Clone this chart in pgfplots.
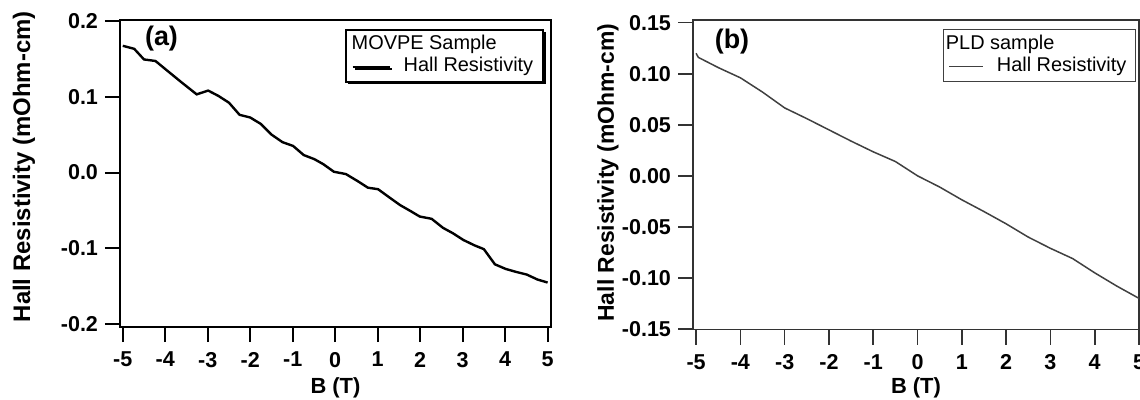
\documentclass[border=0pt]{standalone}
\usepackage{fontspec}
\setmainfont{Liberation Sans}
\usepackage{pgfplots}
\pgfplotsset{compat=1.18}
\usetikzlibrary{shadows}

% shared look of both Igor-style panels
\pgfplotsset{
  hallax/.style={
    scale only axis,
    anchor=south west,
    tick align=outside,
    tick pos=left,
    major tick length=7.5bp,
    xtick={-5,-4,-3,-2,-1,0,1,2,3,4,5},
    xticklabels={-5,-4,-3,-2,-1,0,1,2,3,4,5},
    ticklabel style={font=\bfseries\fontsize{10.8}{12}\selectfont},
    xticklabel style={yshift=-1.5bp},
    xlabel={B (T)},
    ylabel={Hall Resistivity (mOhm-cm)},
    legend cell align=left,
    clip=false,
  },
}

\begin{document}
\begin{tikzpicture}

% ---------------- (a) MOVPE ----------------
\begin{axis}[hallax,
  at={(60bp,-163.5bp)}, width=215.5bp, height=153.5bp,
  xmin=-5.065, xmax=5.08, ymin=-0.2036, ymax=0.201,
  ytick={-0.2,-0.1,0,0.1,0.2},
  yticklabels={-0.2,-0.1,0.0,0.1,0.2},
  axis line style={line width=1bp},
  every tick/.style={line width=1bp, black},
  every axis x label/.style={at={(axis description cs:0.5,-0.1987)}, anchor=center,
    font=\bfseries\fontsize{11}{12}\selectfont},
  every axis y label/.style={at={(axis description cs:-0.2227,0.522)}, rotate=90, anchor=center,
    font=\bfseries\fontsize{12}{13}\selectfont},
  legend style={at={(axis description cs:0.9838,0.9707)}, anchor=north east,
    draw=black, line width=0.8bp, fill=white,
    font=\fontsize{10}{12}\selectfont,
    inner xsep=3bp, inner ysep=2bp,
    nodes={inner ysep=0.5bp, text height=7.5bp, text depth=2.5bp},
    drop shadow={shadow xshift=1.2bp, shadow yshift=-1.2bp, opacity=1, fill=black}},
  legend image code/.code={\draw[#1, line width=0.8bp] (0bp,0bp) -- (18.5bp,0bp);
    \path (23bp,0bp);},
]
\addlegendimage{empty legend}
\addlegendentry{\hspace{-26bp}MOVPE Sample}
\addplot[black, line width=1.2bp] coordinates {
  (-5.00,0.167)(-4.73,0.163)(-4.50,0.149)(-4.23,0.147)(-3.97,0.135)
  (-3.62,0.119)(-3.26,0.103)(-2.99,0.108)(-2.75,0.101)(-2.50,0.092)
  (-2.25,0.076)(-2.00,0.0725)(-1.75,0.064)(-1.50,0.050)(-1.24,0.040)
  (-0.99,0.035)(-0.74,0.023)(-0.49,0.0176)(-0.28,0.011)(-0.03,0.001)
  (0.25,-0.002)(0.52,-0.011)(0.77,-0.020)(1.01,-0.022)(1.28,-0.033)
  (1.53,-0.043)(1.78,-0.051)(1.99,-0.058)(2.27,-0.061)(2.54,-0.073)
  (2.77,-0.080)(3.02,-0.089)(3.28,-0.096)(3.50,-0.101)(3.76,-0.121)
  (4.01,-0.127)(4.26,-0.131)(4.51,-0.1345)(4.76,-0.141)(5.00,-0.145)
};
\addlegendentry{Hall Resistivity}
\node[font=\bfseries\fontsize{13.5}{15}\selectfont, anchor=center]
  at (axis description cs:0.0963,0.938) {(a)};
\end{axis}

% ---------------- (b) PLD ----------------
\begin{axis}[hallax,
  at={(346.5bp,-164.75bp)}, width=223bp, height=154.75bp,
  xmin=-5.07, xmax=5.0, ymin=-0.1505, ymax=0.1526,
  ytick={-0.15,-0.1,-0.05,0,0.05,0.1,0.15},
  yticklabels={-0.15,-0.10,-0.05,0.00,0.05,0.10,0.15},
  axis line style={line width=0.8bp, black!80},
  every tick/.style={line width=0.8bp, black!80},
  every axis x label/.style={at={(axis description cs:0.5,-0.189)}, anchor=center,
    font=\bfseries\fontsize{11}{12}\selectfont},
  every axis y label/.style={at={(axis description cs:-0.1906,0.507)}, rotate=90, anchor=center,
    font=\bfseries\fontsize{11.5}{12.5}\selectfont},
  legend style={at={(axis description cs:0.9933,0.971)}, anchor=north east,
    draw=black!75, line width=0.6bp, fill=white,
    font=\fontsize{10}{12}\selectfont,
    inner xsep=2.5bp, inner ysep=2bp,
    nodes={inner ysep=0.5bp, text height=7.5bp, text depth=2.5bp}},
  legend image code/.code={\draw[#1, line width=0.6bp] (0bp,0bp) -- (17bp,0bp);
    \path (21.5bp,0bp);},
]
\addlegendimage{empty legend}
\addlegendentry{\hspace{-25.5bp}PLD sample}
\addplot[black!75, line width=0.75bp] coordinates {
  (-5.00,0.120)(-4.95,0.116)(-4.50,0.106)(-4.00,0.096)(-3.50,0.082)
  (-3.00,0.0665)(-2.50,0.056)(-2.00,0.045)(-1.50,0.034)(-1.00,0.0235)
  (-0.50,0.014)(0.00,0.000)(0.50,-0.011)(1.00,-0.0235)(1.50,-0.035)
  (2.00,-0.047)(2.50,-0.060)(3.00,-0.071)(3.50,-0.081)(4.00,-0.095)
  (4.50,-0.108)(5.00,-0.120)
};
\addlegendentry{Hall Resistivity}
\node[font=\bfseries\fontsize{13.5}{15}\selectfont, anchor=center]
  at (axis description cs:0.0874,0.929) {(b)};
\end{axis}

\pgfresetboundingbox
\path[use as bounding box] (0bp,0bp) rectangle (570bp,-200bp);
\end{tikzpicture}
\end{document}
